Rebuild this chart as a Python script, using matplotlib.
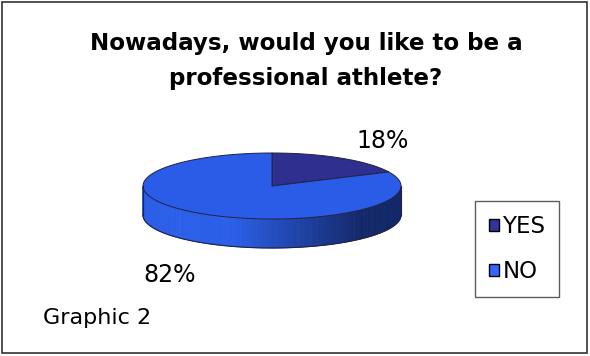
import numpy as np
import matplotlib.pyplot as plt
from matplotlib.patches import Polygon, Rectangle, Patch
from matplotlib.colors import to_rgb

labels = ['YES', 'NO']
values = [18, 82]
pct_labels = ['18%', '82%']
face_colors = ['#2E2F8E', '#2A5CE8']
legend_colors = ['#333399', '#3366FF']

fig = plt.figure(figsize=(5.9, 3.56), dpi=100)
ax = fig.add_axes([0, 0, 1, 1])
ax.set_xlim(0, 590)
ax.set_ylim(356, 0)
ax.axis('off')

# frame round the chart
ax.add_patch(Rectangle((2, 2), 585, 351, fill=False, edgecolor='#333333', lw=1.2))

ax.text(306, 61, 'Nowadays, would you like to be a\nprofessional athlete?', ha='center', va='center',
        fontsize=16.6, fontweight='bold', linespacing=1.62)

# 3d pie geometry (pixels)
cx, cy, rx, ry, depth = 272, 186, 129, 33, 29


def pt(t, dy=0):
    r = np.radians(t)
    return cx + rx * np.cos(r), cy - ry * np.sin(r) + dy


# side of the pie (front half) with a shading from left to right
light = np.array(to_rgb('#2B5FE8'))
dark = np.array(to_rgb('#132868'))
ts = np.linspace(180, 360, 181)
for a, b in zip(ts[:-1], ts[1:]):
    xa, ya = pt(a)
    xb, yb = pt(b)
    u = ((xa + xb) / 2 - (cx - rx)) / (2 * rx)
    k = np.clip((u - 0.35) / 0.5, 0, 1)
    col = light * (1 - k) + dark * k
    ax.add_patch(Polygon([(xa, ya), (xb, yb), (xb, yb + depth), (xa, ya + depth)],
                         closed=True, facecolor=col, edgecolor=col, lw=0.6))
xs, ys = zip(*[pt(t) for t in ts])
xs2, ys2 = zip(*[pt(t, depth) for t in ts])
ax.plot(xs2, ys2, color='#222244', lw=0.8)
ax.plot([xs[0], xs2[0]], [ys[0], ys2[0]], color='#222244', lw=0.8)
ax.plot([xs[-1], xs2[-1]], [ys[-1], ys2[-1]], color='#222244', lw=0.8)

# top faces, clockwise from 12 o'clock
start = 90.0
total = sum(values)
for v, c in zip(values, face_colors):
    end = start - 360.0 * v / total
    arc = [pt(t) for t in np.linspace(start, end, 200)]
    ax.add_patch(Polygon([(cx, cy)] + arc, closed=True, facecolor=c, edgecolor='#222244', lw=0.7))
    start = end

ax.text(383, 141, pct_labels[0], ha='center', va='center', fontsize=17)
ax.text(170, 275, pct_labels[1], ha='center', va='center', fontsize=17)

ax.text(43, 318, 'Graphic 2', ha='left', va='center', fontsize=16)

handles = [Patch(facecolor=c, edgecolor='black', lw=1) for c in legend_colors]
leg = ax.legend(handles, labels, loc='center', bbox_to_anchor=(517 / 590, 1 - 249 / 356),
                fontsize=16.5, frameon=True, fancybox=False, handlelength=0.45, handleheight=0.45,
                handletextpad=0.15, labelspacing=0.95, borderpad=0.6, borderaxespad=0)
leg.get_frame().set_edgecolor('#333333')
leg.get_frame().set_linewidth(1.0)

fig.savefig('out.png', dpi=100)
